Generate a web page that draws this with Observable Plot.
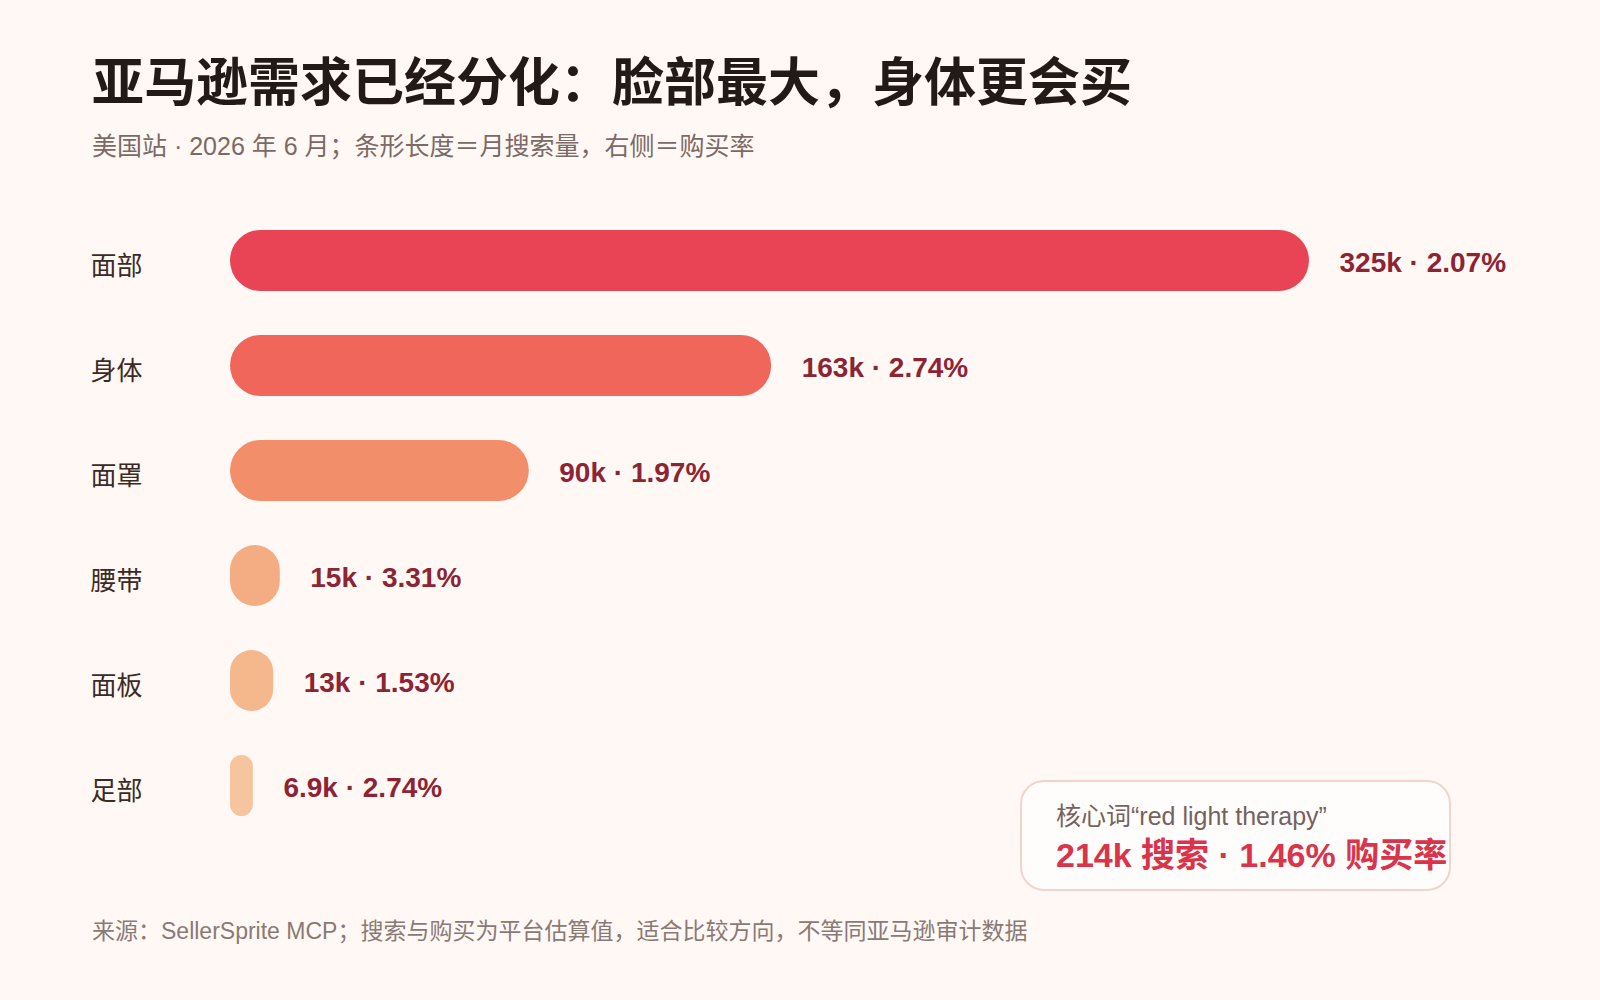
<!DOCTYPE html>
<html>
<head>
<meta charset="utf-8">
<script src="https://cdn.jsdelivr.net/npm/d3@7"></script>
<script src="https://cdn.jsdelivr.net/npm/@observablehq/plot@0.6"></script>
<style>
  html, body { margin: 0; padding: 0; background: #fff8f5; }
  #page { position: relative; width: 1600px; height: 1000px; background: #fff8f5; overflow: hidden;
          font-family: "Liberation Sans", Arial, "Noto Sans CJK SC", sans-serif; }
  .abs { position: absolute; white-space: nowrap; }
  #title { left: 92px; top: 53px; font-size: 52px; line-height: 52px; font-weight: 700; color: #231a17;
           font-family: "Noto Sans CJK SC", sans-serif; }
  #subtitle { left: 92px; top: 133px; font-size: 25px; line-height: 26px; color: #7b6a66; }
  #footer { left: 92px; top: 918px; font-size: 23px; line-height: 26px; color: #8a7a76; }
  #chart { left: 0; top: 0; }
  #callout { left: 1020px; top: 780px; width: 431px; height: 111px; box-sizing: border-box;
             border: 2.5px solid #f2d4cc; border-radius: 24px; background: #fffdfc; }
  #callout .l1 { position: absolute; left: 34px; top: 21px; font-size: 25px; line-height: 27px; color: #76625e; white-space: nowrap; }
  #callout .l2 { position: absolute; left: 34px; top: 54px; font-size: 34px; line-height: 38px; font-weight: 700; color: #d9344a; white-space: nowrap; }
</style>
</head>
<body>
<div id="page">
  <div id="title" class="abs">亚马逊需求已经分化：脸部最大，身体更会买</div>
  <div id="subtitle" class="abs">美国站 · 2026 年 6 月；条形长度＝月搜索量，右侧＝购买率</div>
  <div id="chart" class="abs"></div>
  <div id="callout" class="abs">
    <div class="l1">核心词“red light therapy”</div>
    <div class="l2">214k 搜索 · 1.46% 购买率</div>
  </div>
  <div id="footer" class="abs">来源：SellerSprite MCP；搜索与购买为平台估算值，适合比较方向，不等同亚马逊审计数据</div>
</div>
<script>
// ---- data ----
const categories = ["面部", "身体", "面罩", "腰带", "面板", "足部"];
const searchVolumeK = [325, 163, 90, 15, 13, 6.9];
const searchLabels = ["325k", "163k", "90k", "15k", "13k", "6.9k"];
const purchaseRates = [2.07, 2.74, 1.97, 3.31, 1.53, 2.74];
const palette = ["#e84456", "#f0665a", "#f38e6a", "#f4ac82", "#f5b78c", "#f6c5a0"];

const rows = categories.map((c, i) => ({
  cat: c,
  search: searchVolumeK[i],
  label: `${searchLabels[i]} · ${purchaseRates[i].toFixed(2)}%`
}));

const chart = Plot.plot({
  width: 1600,
  height: 860,
  marginTop: 208.5,
  marginBottom: 21.5,
  marginLeft: 230,
  marginRight: 291,
  style: { background: "transparent", overflow: "visible" },
  x: { domain: [0, 325], axis: null },
  y: { domain: categories, paddingInner: 0.419, paddingOuter: 0.2095, axis: null },
  color: { domain: categories, range: palette },
  marks: [
    Plot.barX(rows, { x: "search", y: "cat", fill: "cat" }),
    Plot.text(rows, {
      y: "cat", text: "cat", frameAnchor: "left", dx: -140, dy: 6, textAnchor: "start",
      fontSize: 26, fill: "#3b2a26", fontFamily: "'Noto Sans CJK SC', sans-serif"
    }),
    Plot.text(rows, {
      x: "search", y: "cat", text: "label", dx: 30, dy: 2, textAnchor: "start",
      fontSize: 28, fontWeight: 700, fill: "#8c2434", fontFamily: "'Liberation Sans', Arial, sans-serif"
    })
  ]
});

// pill-shaped bars: corner radius = half the smaller side
chart.querySelectorAll('g[aria-label="bar"] rect').forEach(r => {
  const w = +r.getAttribute("width"), h = +r.getAttribute("height");
  const rr = Math.min(w, h) / 2;
  r.setAttribute("rx", rr);
  r.setAttribute("ry", rr);
});

document.getElementById("chart").appendChild(chart);
</script>
</body>
</html>
